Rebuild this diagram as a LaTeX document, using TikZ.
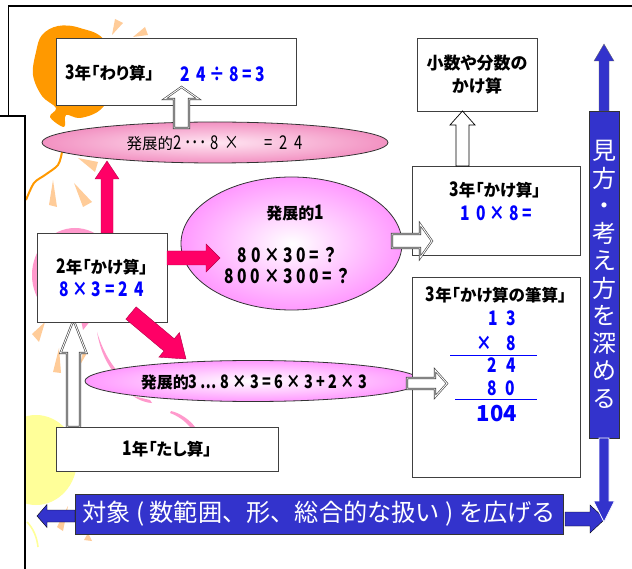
\documentclass[tikz,border=0pt]{standalone}
\usepackage{fontspec}
\usetikzlibrary{calc,shapes.geometric}
\setmainfont{Noto Sans CJK JP}[RawFeature={+palt}]
\newfontfamily\widefont{Noto Sans CJK JP}
\newfontfamily\slimfont{Noto Sans CJK JP}[FakeStretch=.78]
\newcommand{\nd}[1]{{\slimfont\fontsize{20}{20}\selectfont #1}}
\definecolor{deep}{HTML}{3333CC}
\definecolor{rose}{HTML}{FF0066}
\definecolor{calc}{HTML}{0000FF}
\definecolor{peach}{HTML}{FFCC99}
\definecolor{amber}{HTML}{FF9900}
\definecolor{blush}{HTML}{FF99CC}
\definecolor{lemon}{HTML}{FFFF99}
\definecolor{orchid}{HTML}{FF99FF}
\tikzset{
  x=1pt,y=-1pt,
  heading/.style={font=\bfseries\fontsize{16.5}{19}\selectfont,inner sep=0pt},
  panel/.style={draw=black!75,line width=.9pt,fill=white,inner sep=0pt,align=center,font=\bfseries\fontsize{16.5}{19}\selectfont},
  oval/.style={ellipse,draw=black!80,line width=.8pt,inner sep=0pt},
  band/.style={draw=black!80,line width=.7pt,fill=deep,text=white,inner sep=0pt,align=center},
  redarrow/.style={fill=rose,draw=rose!70!black,line width=.4pt},
  bluearrow/.style={fill=deep,draw=white,line width=.8pt},
  plainarrow/.style={fill=white,draw=black,line width=.7pt},
  twinarrow/.style={fill=white,draw=black!75,double=white,double distance=.9pt,line width=.6pt},
  frame/.style={draw=black,line width=1.4pt},
  sum/.style={text=calc,font=\bfseries\slimfont\fontsize{20}{20}\selectfont,inner sep=0pt},
  wedge/.style={fill=peach},
}
% Block arrow between two coordinates: style, start, tip, half shaft, half head, head length
\newcommand{\blockarrow}[6]{%
  \path ($(#3)!#6pt!(#2)$) coordinate (hb);
  \draw[#1] ($(#2)!#4pt!90:(#3)$) -- ($(hb)!#4pt!90:(#3)$) -- ($(hb)!#5pt!90:(#3)$) -- (#3)
     -- ($(hb)!#5pt!-90:(#3)$) -- ($(hb)!#4pt!-90:(#3)$) -- ($(#2)!#4pt!-90:(#3)$) -- cycle;
}
\begin{document}
\begin{tikzpicture}
\useasboundingbox (0,0) rectangle (632,569);
\fill[white] (0,0) rectangle (632,569);

% decorative background
\begin{scope}
\clip (25,6) rectangle (632,569);
\fill[amber] plot[smooth cycle,tension=.6] coordinates {(36,52) (42,35) (58,26) (80,28) (105,42) (110,90) (100,110) (80,118) (66,115) (64,127) (50,117) (56,108) (42,96) (33,75)};
\draw[amber,line width=2pt] plot[smooth] coordinates {(62,152) (58,165) (45,175) (34,183) (26,200)};
\fill[wedge] (112,35)--(115,19)--(123,23)--cycle;
\fill[wedge] (133,37)--(148,35)--(145,27)--cycle;
\fill[wedge] (78,158)--(98,162)--(95,172)--cycle;
\fill[wedge] (53,180)--(49,205)--(57,207)--cycle;
\fill[wedge] (74,183)--(83,207)--(92,202)--cycle;
\fill[wedge] (45,322)--(32,334)--(39,342)--cycle;
\fill[wedge] (59,348)--(53,372)--(61,373)--cycle;
\fill[wedge] (83,352)--(80,365)--(87,353)--cycle;
\fill[wedge] (68,506)--(57,527)--(63,531)--cycle;
\fill[wedge] (88,533)--(84,540)--(92,541)--cycle;
\fill[blush] (75,275) ellipse [x radius=43,y radius=47];
\fill[blush] (81,320)--(91,320)--(83,330)--cycle;
\fill[blush] (97,332) .. controls (100,350) and (107,365) .. (116,375) -- (118,372) .. controls (108,360) and (102,348) .. cycle;
\fill[blush] (133,396) .. controls (140,401) and (148,403) .. (152,403) -- (150,400) -- cycle;
\fill[blush] (171,411) .. controls (180,413) and (190,420) .. (195,427) -- (190,427) .. controls (185,421) and (178,416) .. (170,413) -- cycle;
\fill[lemon] (36,460) ellipse [x radius=41,y radius=45];
\draw[lemon,line width=1.6pt] (27,522) .. controls (33,528) and (37,537) .. (38,547);
\end{scope}

% page frames
\draw[frame] (8.5,116) -- (8.5,6) -- (632,6);
\draw[frame] (0,116) -- (25,116) -- (25,569);

% ovals
\node[oval,shade,inner color=blush!25!white,outer color=blush!95!black,minimum width=346,minimum height=41] (devb) at (215,142.5) {};
\node[oval,shade,inner color=white,outer color=orchid,minimum width=221,minimum height=133] (deva) at (291.5,243.5) {};
\node[oval,shade,inner color=white,outer color=orchid,minimum width=336,minimum height=41] (devc) at (253,381) {};
\node[inner sep=0pt,font=\fontsize{15.5}{18}\selectfont] (devbt) at (214.5,143) {発展的{\slimfont\fontsize{19}{19}\selectfont 2 ･･･ 8~~×\hspace{1.3em}=~~2~~4}};
\node[inner sep=0pt,font=\bfseries\fontsize{16}{20.5}\selectfont] (devat) at (295,213) {発展的\nd{\bfseries 1}};
\node[inner sep=0pt,align=center,font=\bfseries\fontsize{16}{21}\selectfont] (devan) at (288,265.5) {\nd{\bfseries 8~0~×~3~0~=~？}\\\nd{\bfseries 8~0~0~×~3~0~0~=~？}};
\node[inner sep=0pt,font=\bfseries\fontsize{16}{18}\selectfont] (devct) at (254,382) {発展的{\slimfont\bfseries\fontsize{18.5}{18.5}\selectfont 3 … 8~×~3~=~6~×~3~+~2~×~3}};

% arrow ends not on a box edge
\coordinate (upS) at (107,233);
\coordinate (upE) at (107,161);
\coordinate (rightS) at (167,258);
\coordinate (rightE) at (220,258);
\coordinate (diagS) at (131,313);
\coordinate (diagE) at (186,359);
\coordinate (stepS) at (181.5,128);
\coordinate (stepE) at (181.5,87);
\coordinate (decS) at (462.5,166);
\coordinate (decE) at (462.5,111);
\coordinate (oneS) at (392,241);
\coordinate (oneE) at (432,241);
\coordinate (thrS) at (407,383.5);
\coordinate (thrE) at (447,383.5);
\coordinate (addS) at (73.5,427);
\coordinate (addE) at (73.5,320);

% boxes
\node[panel,minimum width=240,minimum height=66.5] (div) at (176,71.75) {};
\node[heading,anchor=west] (divt) at (65,73) {\nd{\bfseries 3}年「わり算」};
\node[sum,anchor=west] (divs) at (180,74) {2~~4~÷~8~=~3};
\node[panel,minimum width=120,minimum height=72.5,font=\bfseries\fontsize{17}{23}\selectfont] (dec) at (477,75) {小数や分数の\\かけ算};
\node[panel,minimum width=168,minimum height=89] (mul) at (496,210.5) {};
\node[heading] (mult) at (495,190) {\nd{\bfseries 3}年「かけ算」};
\node[sum] (muls) at (496,213) {1~~0~×~8~=};
\node[panel,minimum width=168,minimum height=200] (col) at (496,377) {};
\node[heading] (colt) at (496,295) {\nd{\bfseries 3}年「かけ算の筆算」};
\node[sum] (r1a) at (493,318) {1};
\node[sum] (r1b) at (511,318) {3};
\node[sum] (r2a) at (484,343) {×};
\node[sum] (r2b) at (511,343) {8};
\node[sum] (r3a) at (492,365) {2};
\node[sum] (r3b) at (511,365) {4};
\node[sum] (r4a) at (492,388) {8};
\node[sum] (r4b) at (510,388) {0};
\node[sum,font=\bfseries\fontsize{22}{24}\selectfont] (tot) at (497,414) {104};
\coordinate (ruleAl) at (450,355.5);
\coordinate (ruleAr) at (537,355.5);
\coordinate (ruleBl) at (455,399.5);
\coordinate (ruleBr) at (537,399.5);
\draw[calc,line width=.8pt] (ruleAl) -- (ruleAr);
\draw[calc,line width=.8pt] (ruleBl) -- (ruleBr);

% hollow arrows
\blockarrow{twinarrow}{addS}{addE}{6.5}{13}{33}
\blockarrow{plainarrow}{decS}{decE}{6.5}{12.5}{14}
\blockarrow{twinarrow}{stepS}{stepE}{7.5}{17}{12}

\node[panel,minimum width=130,minimum height=89,font=\bfseries\fontsize{16.5}{23}\selectfont] (two) at (102,277.5) {\nd{\bfseries 2}年「かけ算」\\[0pt]\textcolor{calc}{\nd{\bfseries 8~×~3~=~2~~4}}};
\node[panel,minimum width=222,minimum height=44] (one) at (167,449) {\nd{\bfseries 1}年「たし算」};

\blockarrow{twinarrow}{oneS}{oneE}{7}{17}{12}
\blockarrow{twinarrow}{thrS}{thrE}{5.5}{13.5}{12}

% solid arrows
\blockarrow{redarrow}{upS}{upE}{6}{12}{18}
\blockarrow{redarrow}{rightS}{rightE}{7}{14}{14}
\blockarrow{redarrow}{diagS}{diagE}{8}{16}{22}

% bands and their arrows
\node[band,minimum width=30,minimum height=327,font=\widefont\fontsize{24}{27.5}\selectfont] (look) at (604,274.5) {見\\方\\・\\考\\え\\方\\を\\深\\め\\る};
\node[band,minimum width=488,minimum height=40,font=\widefont\fontsize{24.2}{28}\selectfont] (scope) at (319,514) {対象 ( 数範囲、形、総合的な扱い ) を広げる};
\coordinate (lookUp) at (604,44);
\coordinate (lookDown) at (604,522);
\coordinate (scopeLeft) at (37,516);
\coordinate (scopeRight) at (605,519);
\coordinate (lookT) at (604,111);
\coordinate (lookB) at (604,438);
\coordinate (scopeL) at (75,516);
\coordinate (scopeR) at (565,519);
\blockarrow{fill=deep,draw=black!60,line width=.3pt}{lookT}{lookUp}{5}{10}{17}
\blockarrow{fill=deep}{scopeL}{scopeLeft}{6}{11.5}{10}
\blockarrow{fill=deep}{scopeR}{scopeRight}{7}{14}{15}
\blockarrow{bluearrow}{lookB}{lookDown}{5}{10.5}{21}
\end{tikzpicture}
\end{document}
